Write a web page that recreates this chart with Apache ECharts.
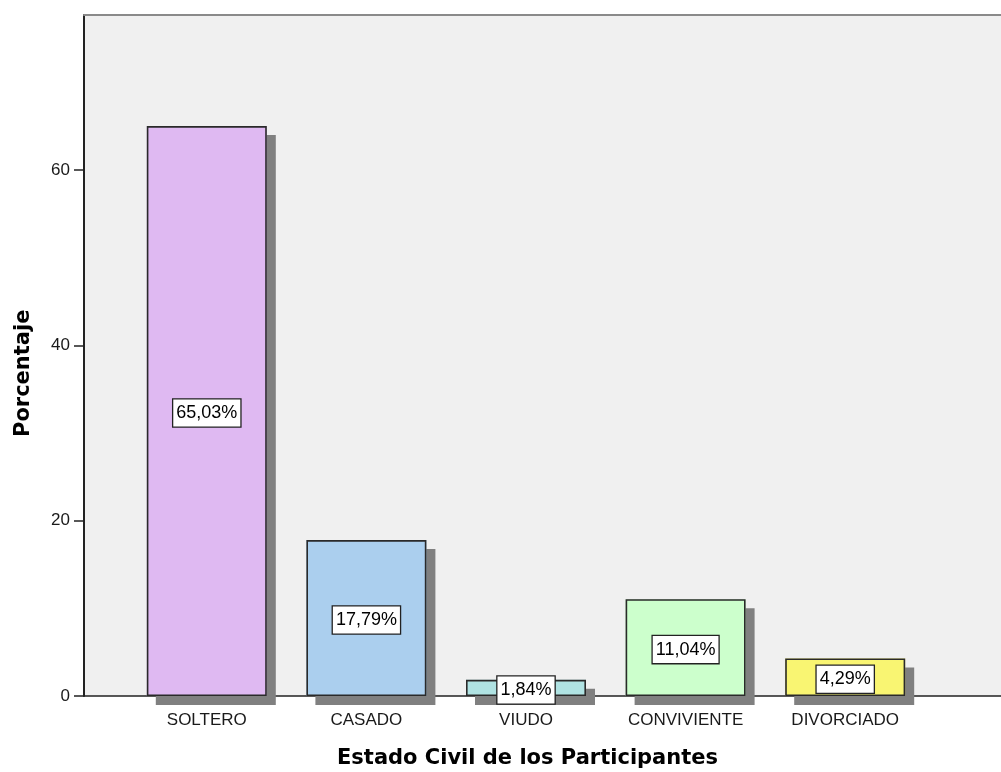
<!DOCTYPE html>
<html>
<head>
<meta charset="utf-8">
<script src="https://cdn.jsdelivr.net/npm/echarts@6/dist/echarts.min.js"></script>
<style>html,body{margin:0;padding:0;background:#fff;}#c{width:1001px;height:772px;}</style>
</head>
<body>
<div id="c"></div>
<script>
const categories = ['SOLTERO', 'CASADO', 'VIUDO', 'CONVIVIENTE', 'DIVORCIADO'];
const percentages = [65.03, 17.79, 1.84, 11.04, 4.29];
const barColors = ['#dfb9f2', '#abcfee', '#b0e3e3', '#ccffcc', '#f9f572'];
const yTicks = [0, 20, 40, 60];
const yMax = 77.7;

const chart = echarts.init(document.getElementById('c'), null, {renderer: 'canvas'});
const tickFont = {fontFamily: 'Liberation Sans, Arial, sans-serif', fontSize: 17, color: '#1a1a1a'};
const barData = percentages.map((v, i) => ({value: v, itemStyle: {color: barColors[i]}}));
const option = {
  backgroundColor: '#ffffff',
  animation: false,
  grid: [
    {left: 84, right: 0, top: 15, bottom: 76, show: true, backgroundColor: '#f0f0f0', borderWidth: 0},
    {left: 127, right: 76, top: 15, bottom: 76}
  ],
  xAxis: [
    {gridIndex: 0, type: 'value', min: 0, max: 1, position: 'bottom',
     axisLine: {show: true, onZero: false, lineStyle: {color: '#222', width: 1.5}},
     axisTick: {show: false}, axisLabel: {show: false}, splitLine: {show: false}},
    {gridIndex: 0, type: 'value', min: 0, max: 1, position: 'top',
     axisLine: {show: true, onZero: false, lineStyle: {color: '#8a8a8a', width: 2}},
     axisTick: {show: false}, axisLabel: {show: false}, splitLine: {show: false}},
    {gridIndex: 1, type: 'category', data: categories, position: 'bottom',
     axisLine: {show: false, onZero: false},
     axisTick: {show: true, alignWithLabel: true, length: 5, lineStyle: {color: '#555'}},
     axisLabel: Object.assign({margin: 16, interval: 0}, tickFont),
     splitLine: {show: false}}
  ],
  yAxis: [
    {gridIndex: 0, type: 'value', min: 0, max: yMax, interval: 20,
     axisLine: {show: true, onZero: false, lineStyle: {color: '#222', width: 2}},
     axisTick: {show: true, length: 10, customValues: yTicks, lineStyle: {color: '#222', width: 1.5}},
     axisLabel: Object.assign({margin: 14, customValues: yTicks}, tickFont),
     splitLine: {show: false}},
    {gridIndex: 1, type: 'value', min: 0, max: yMax, show: false}
  ],
  series: [
    {
      type: 'bar', name: 'shadow',
      xAxisIndex: 2, yAxisIndex: 1,
      barWidth: 120, barGap: '-100%', z: 2,
      data: barData,
      itemStyle: {
        borderWidth: 0,
        shadowColor: '#808080', shadowOffsetX: 9, shadowOffsetY: 9, shadowBlur: 0
      },
      silent: true
    },
    {
      type: 'bar', name: 'Porcentaje',
      xAxisIndex: 2, yAxisIndex: 1,
      barWidth: 120, barGap: '-100%', z: 3,
      data: barData,
      itemStyle: {borderColor: '#2a2a2a', borderWidth: 1.6},
      label: {
        show: true, position: 'inside', offset: [0, 2],
        formatter: p => p.value.toFixed(2).replace('.', ',') + '%',
        fontFamily: 'Liberation Sans, Arial, sans-serif', fontSize: 18, color: '#000',
        backgroundColor: '#ffffff', borderColor: '#222', borderWidth: 1.3,
        padding: [5, 3, 4, 3]
      }
    }
  ],
  graphic: [
    {type: 'text', left: 337, top: 748,
     style: {text: 'Estado Civil de los Participantes', font: 'bold 21px "DejaVu Sans", Verdana, sans-serif', fill: '#000'}},
    {type: 'text', x: 13, y: 437, rotation: Math.PI / 2,
     style: {text: 'Porcentaje', font: 'bold 21px "DejaVu Sans", Verdana, sans-serif', fill: '#000', textVerticalAlign: 'top'}}
  ]
};
chart.setOption(option);
</script>
</body>
</html>
